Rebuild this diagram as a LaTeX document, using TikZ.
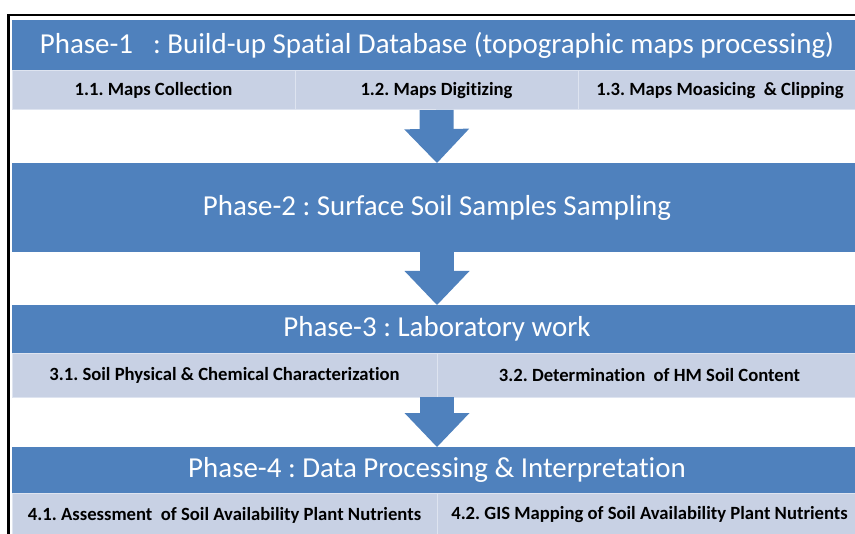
\documentclass[tikz,border=0pt]{standalone}
\usepackage{fontspec}
\setmainfont[Ligatures=NoCommon]{Carlito}
\usetikzlibrary{arrows.meta}
\frenchspacing

\tikzset{every picture/.style={line width=0.75pt}}
\tikzset{
  phasebar/.style={fill={rgb, 255:red, 79; green, 129; blue, 189 }, text=white, anchor=north west, inner sep=0pt, outer sep=0pt, font=\fontsize{21.7}{26}\selectfont},
  taskbar/.style={fill={rgb, 255:red, 200; green, 209; blue, 228 }, draw={rgb, 255:red, 222; green, 228; blue, 240 }, line width=0.75pt, anchor=north west, inner sep=0pt, outer sep=0pt, font=\bfseries\fontsize{14}{17}\selectfont},
  flowarrow/.style={draw={rgb, 255:red, 79; green, 129; blue, 189 }, line width=25.5pt, -{Triangle[width=48.75pt,length=25.5pt,line width=0pt]}}
}

\begin{document}
\begin{tikzpicture}[x=0.75pt,y=0.75pt,yscale=-1,xscale=1]
\useasboundingbox (0,0) rectangle (855,534);

%Frame
\draw [line width=1.6pt]  (8.5,15) -- (900,15) -- (900,560) -- (8.5,560) -- cycle ;

%Phase-1
\node [phasebar, minimum width=637.5pt, minimum height=37.5pt] (p1) at (12,20) {Phase-1\hspace{15pt}: Build-up Spatial Database (topographic maps processing)};
\node [taskbar, minimum width=212.25pt, minimum height=29.25pt] (s11) at (12,71) {1.1. Maps Collection};
\node [taskbar, minimum width=212.25pt, minimum height=29.25pt] (s12) at (295,71) {1.2. Maps Digitizing};
\node [taskbar, minimum width=213pt, minimum height=29.25pt] (s13) at (578,71) {1.3. Maps Moasicing\ \ \& Clipping};

%Phase-2
\node [phasebar, minimum width=637.5pt, minimum height=66.75pt] (p2) at (12,163) {Phase-2 : Surface Soil Samples Sampling};

%Phase-3
\node [phasebar, minimum width=637.5pt, minimum height=36pt] (p3) at (12,305) {Phase-3 : Laboratory work};
\node [taskbar, minimum width=318.75pt, minimum height=33pt] (s31) at (12,353) {3.1. Soil Physical \& Chemical Characterization};
\node [taskbar, minimum width=318.75pt, minimum height=33pt] (s32) at (437,353) {3.2. Determination\ \ of HM Soil Content};

%Phase-4
\node [phasebar, minimum width=637.5pt, minimum height=34.5pt] (p4) at (12,447) {Phase-4 : Data Processing \& Interpretation};
\node [taskbar, minimum width=318.75pt, minimum height=33pt] (s41) at (12,493) {4.1. Assessment\ \ of Soil Availability Plant Nutrients};
\node [taskbar, minimum width=318.75pt, minimum height=33pt] (s42) at (437,493) {4.2. GIS Mapping of Soil Availability Plant Nutrients};

%Arrows
\draw [flowarrow] (s12.south) -- (p2.north) ;
\draw [flowarrow] (p2.south) -- (p3.north) ;
\draw [flowarrow] (s31.south east) -- (p4.north) ;
\end{tikzpicture}
\end{document}
